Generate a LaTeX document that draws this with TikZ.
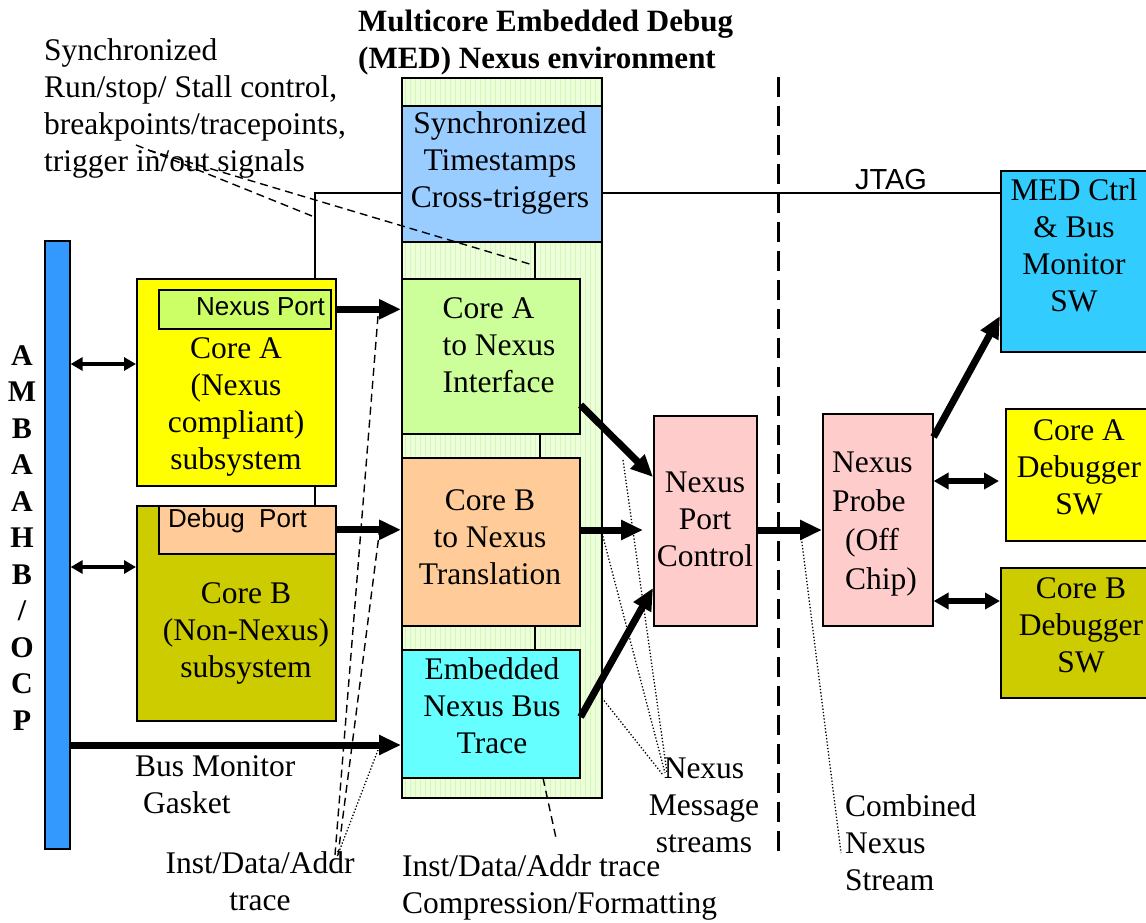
\documentclass[tikz,border=0pt]{standalone}
\usepackage{fontspec}
\setmainfont{Liberation Serif}
\newfontfamily\arialfont{Liberation Sans}
\usetikzlibrary{arrows.meta,calc}

\definecolor{ambablue}{RGB}{51,153,255}
\definecolor{coreyellow}{RGB}{255,255,0}
\definecolor{portgreen}{RGB}{204,255,102}
\definecolor{coreolive}{RGB}{204,204,0}
\definecolor{peach}{RGB}{255,204,153}
\definecolor{syncblue}{RGB}{153,204,255}
\definecolor{ifgreen}{RGB}{204,255,153}
\definecolor{tracecyan}{RGB}{102,255,255}
\definecolor{pinkbox}{RGB}{255,204,204}
\definecolor{medblue}{RGB}{51,204,255}
\definecolor{colbg}{RGB}{236,255,218}
\definecolor{colgrid}{RGB}{214,247,186}

\begin{document}
\begin{tikzpicture}[x=1pt,y=-1pt,
  box/.style={draw=black,line width=1.6pt,anchor=north west,inner sep=0pt},
  txt/.style={inner sep=0pt,align=center,font=\fontsize{31.5}{37}\selectfont},
  ltxt/.style={inner sep=0pt,align=left,anchor=west,font=\fontsize{31.5}{37}\selectfont},
  porttxt/.style={inner sep=0pt,font=\arialfont\fontsize{26}{30}\selectfont},
  bigarrow/.style={line width=7pt,-{Triangle[length=22pt,width=19pt]}},
  dblarrow/.style={line width=4pt,{Triangle[length=12pt,width=13pt]}-{Triangle[length=12pt,width=13pt]}},
  dblarrowb/.style={line width=5.5pt,{Triangle[length=15pt,width=16pt]}-{Triangle[length=15pt,width=16pt]}},
  wire/.style={line width=1.4pt},
  note/.style={line width=1.4pt,dash pattern=on 8pt off 5pt},
  dotnote/.style={line width=1.3pt,dash pattern=on 1.3pt off 2pt},
]
\useasboundingbox (0,0) rectangle (1146,922);

% textured column of the MED Nexus environment
\begin{scope}
  \clip (401,77) rectangle (601,797);
  \fill[colbg] (401,77) rectangle (601,797);
  \draw[colgrid,line width=0.45pt,step=5] (400,75) grid (605,800);
\end{scope}
\node[box,minimum width=200,minimum height=720] (col) at (401,77) {};

% title
\node[inner sep=0pt,align=left,anchor=west,font=\bfseries\fontsize{31}{37}\selectfont] (title) at (358,43)
  {Multicore Embedded Debug\\(MED) Nexus environment};

% AMBA bus
\node[box,fill=ambablue,minimum width=25,minimum height=608] (amba) at (44,240) {};
\node[inner sep=0pt,align=center,font=\bfseries\fontsize{30}{36.5}\selectfont] (ambatxt) at (22,538)
  {A\\M\\B\\A\\A\\H\\B\\/\\O\\C\\P};

% core subsystems
\node[box,fill=coreyellow,minimum width=199,minimum height=207] (coreA) at (136,278) {};
\node[box,fill=portgreen,minimum width=172,minimum height=39] (nport) at (158,289) {};
\node[porttxt,anchor=east] (nporttxt) at (325,307) {Nexus Port};
\node[txt] (coreAtxt) at (236,407) {Core A\\(Nexus\\compliant)\\subsystem};

\node[box,fill=coreolive,minimum width=199,minimum height=215] (coreB) at (136,505) {};
\node[box,fill=peach,minimum width=177,minimum height=48] (dport) at (158,505) {};
\node[porttxt,anchor=west] (dporttxt) at (168,521) {Debug\ \ Port};
\node[txt] (coreBtxt) at (246,633) {Core B\\(Non-Nexus)\\subsystem};

% blocks inside the environment
\node[box,fill=syncblue,minimum width=200,minimum height=136] (sync) at (401,105) {};
\node[txt] (synctxt) at (500,163) {Synchronized\\Timestamps\\Cross-triggers};

\node[box,fill=ifgreen,minimum width=178,minimum height=155] (cta) at (401,278) {};
\node[txt,align=left] (ctatxt) at (499,345) {Core A\\to Nexus\\Interface};

\node[box,fill=peach,minimum width=178,minimum height=168] (ctb) at (401,457) {};
\node[txt] (ctbtxt) at (490,537) {Core B\\to Nexus\\Translation};

\node[box,fill=tracecyan,minimum width=178,minimum height=128] (ent) at (401,649) {};
\node[txt] (enttxt) at (492,706) {Embedded\\Nexus Bus\\Trace};

% port control and probe
\node[box,fill=pinkbox,minimum width=103,minimum height=210] (npc) at (653,415) {};
\node[txt] (npctxt) at (705,519) {Nexus\\Port\\Control};

\node[box,fill=pinkbox,minimum width=110,minimum height=212] (probe) at (822,413) {};
\node[ltxt,font=\fontsize{31.5}{39}\selectfont] (probetxt) at (832,524)
  {Nexus\\Probe\\\hspace*{13pt}(Off\\\hspace*{13pt}Chip)};

% host software
\node[box,fill=medblue,minimum width=150,minimum height=181] (med) at (1000,170) {};
\node[txt] (medtxt) at (1074,245) {MED Ctrl\\\& Bus\\Monitor\\SW};

\node[box,fill=coreyellow,minimum width=145,minimum height=132] (dbgA) at (1005,408) {};
\node[txt] (dbgAtxt) at (1079,467) {Core A\\Debugger\\SW};

\node[box,fill=coreolive,minimum width=150,minimum height=130] (dbgB) at (1000,567) {};
\node[txt] (dbgBtxt) at (1081,625) {Core B\\Debugger\\SW};

% JTAG chain
\coordinate (jt) at (315,193);
\draw[wire] (coreA.north -| jt) -- (jt) -- (jt -| sync.west);
\draw[wire] (sync.east |- jt) -- (jt -| med.west);
\draw[wire] (coreA.south -| jt) -- (coreB.north -| jt);
\node[inner sep=0pt,font=\arialfont\fontsize{29}{32}\selectfont] (jtag) at (891,180) {JTAG};

% links between the environment blocks
\coordinate (la) at (535,0);
\coordinate (lb) at (540,0);
\draw[wire] (sync.south -| la) -- (cta.north -| la);
\draw[wire] (cta.south -| lb) -- (ctb.north -| lb);
\draw[wire] (ctb.south -| la) -- (ent.north -| la);

% bus connections
\coordinate (rA) at (0,364);
\coordinate (rB) at (0,567);
\coordinate (rM) at (0,745);
\draw[dblarrow] (amba.east |- rA) -- (coreA.west |- rA);
\draw[dblarrow] (amba.east |- rB) -- (coreB.west |- rB);
\draw[bigarrow] (amba.east |- rM) -- (ent.west |- rM);

% trace streams
\draw[bigarrow] (nport.east -| coreA.east) -- (nport.east -| cta.west);
\draw[bigarrow] (dport.east) -- (dport.east -| ctb.west);

\coordinate (r1) at (0,405);
\coordinate (r2) at (0,477);
\coordinate (r3) at (0,530);
\coordinate (r4) at (0,717);
\coordinate (r5) at (0,588);
\draw[bigarrow] (cta.east |- r1) -- (npc.west |- r2);
\draw[bigarrow,shorten >=10pt] (ctb.east |- r3) -- (npc.west |- r3);
\draw[bigarrow] (ent.east |- r4) -- (npc.west |- r5);
\draw[bigarrow] (npc.east |- r3) -- (probe.west |- r3);

\coordinate (r6) at (0,437);
\coordinate (r7) at (0,316);
\coordinate (r8) at (0,481);
\coordinate (r9) at (0,601);
\draw[bigarrow] (probe.east |- r6) -- (med.west |- r7);
\draw[dblarrowb,shorten >=6pt] (probe.east |- r8) -- (dbgA.west |- r8);
\draw[dblarrowb] (probe.east |- r9) -- (dbgB.west |- r9);

% chip boundary
\coordinate (bt) at (778,77);
\coordinate (bb) at (778,860);
\draw[line width=3pt,dash pattern=on 20pt off 9pt] (bt) -- (bb);

% annotations
\node[ltxt] (synclbl) at (44,108)
  {Synchronized\\Run/stop/ Stall control,\\breakpoints/tracepoints,\\trigger in/out signals};
\coordinate (s1) at (136,145);
\coordinate (s2) at (148,150);
\coordinate (s1e) at (312,216);
\coordinate (s2e) at (533,265);
\draw[note] (s1) -- (s1e);
\draw[note] (s2) -- (s2e);

\node[ltxt] (bmg) at (135,785) {Bus Monitor\\\hspace*{8pt}Gasket};

\node[txt] (idat) at (260,881) {Inst/Data/Addr\\trace};
\coordinate (i1) at (378,316);
\coordinate (i2) at (380,527);
\coordinate (i3) at (378,750);
\coordinate (i1e) at (335,855);
\coordinate (i2e) at (338,855);
\coordinate (i3e) at (337,857);
\draw[note] (i1) -- (i1e);
\draw[note] (i2) -- (i2e);
\draw[dotnote] (i3) -- (i3e);

\node[ltxt] (compr) at (402,887) {Inst/Data/Addr trace\\Compression/Formatting};
\coordinate (c1) at (543,778);
\coordinate (c1e) at (556,838);
\draw[note] (c1) -- (c1e);

\node[txt] (msgs) at (704,805) {Nexus\\Message\\streams};
\coordinate (m1) at (623,460);
\coordinate (m2) at (602,533);
\coordinate (m3) at (602,698);
\coordinate (m1e) at (667,773);
\coordinate (m2e) at (665,773);
\coordinate (m3e) at (663,775);
\draw[dotnote] (m1) -- (m1e);
\draw[dotnote] (m2) -- (m2e);
\draw[dotnote] (m3) -- (m3e);

\node[ltxt] (comb) at (845,843) {Combined\\Nexus\\Stream};
\coordinate (n1) at (801,535);
\coordinate (n1e) at (841,853);
\draw[dotnote] (n1) -- (n1e);
\end{tikzpicture}
\end{document}
